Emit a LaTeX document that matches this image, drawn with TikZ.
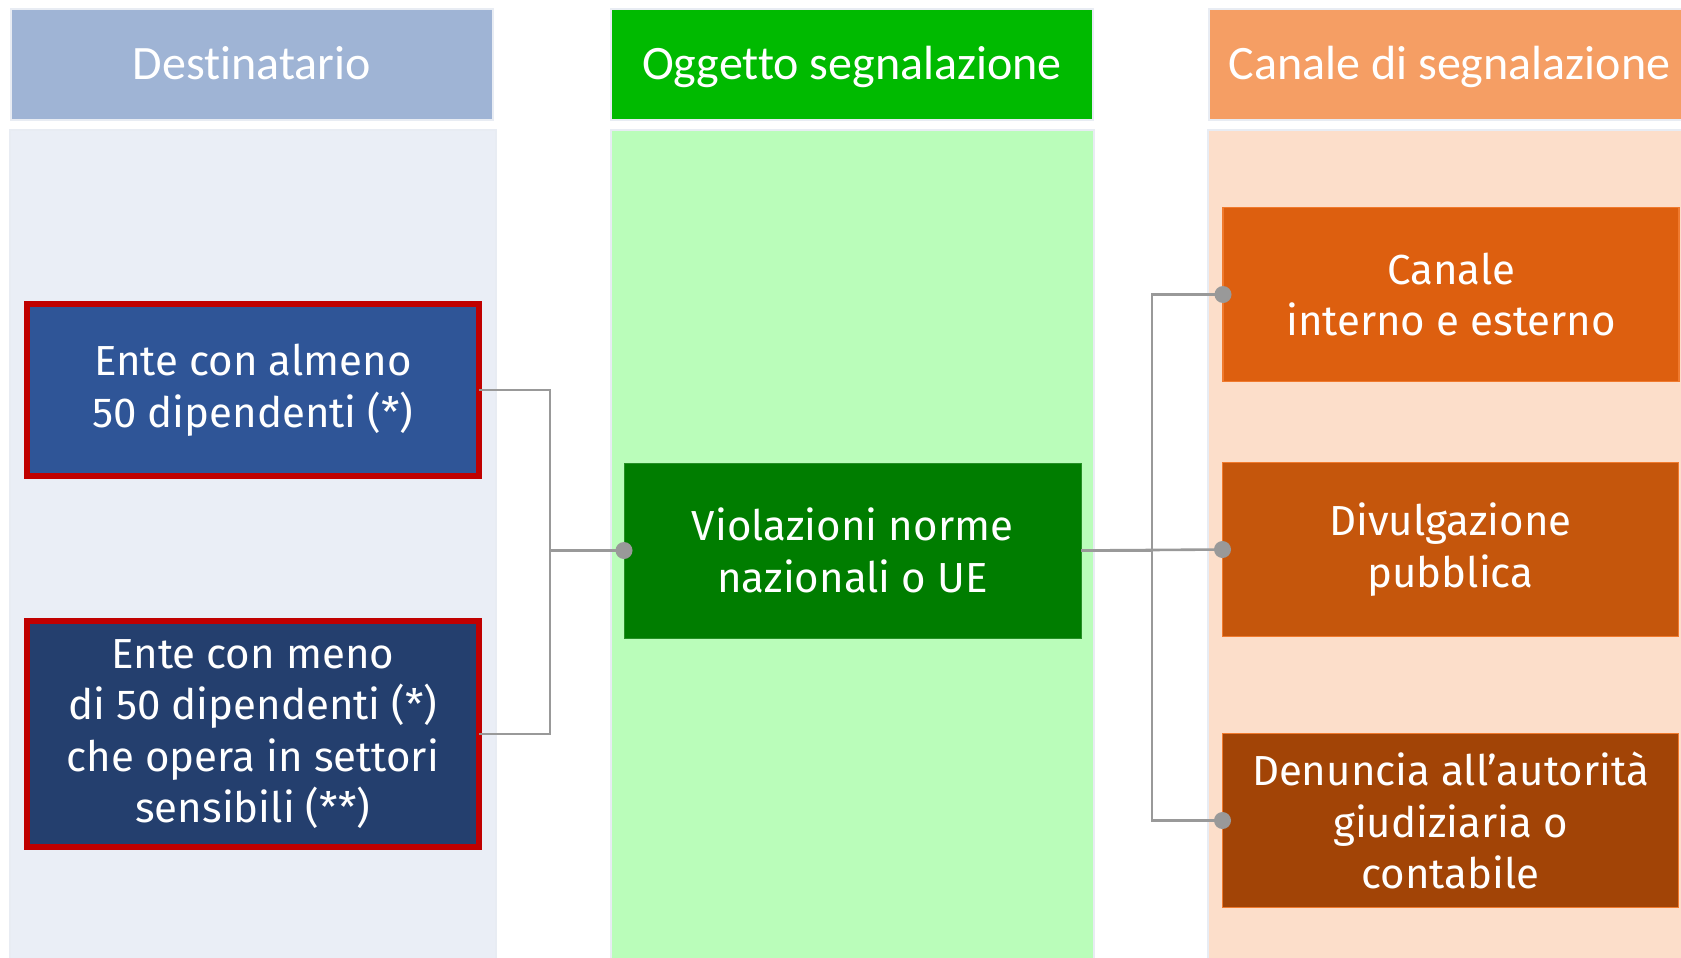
\documentclass[tikz,border=0pt]{standalone}
\usepackage{fontspec}
\setmainfont{Fira Sans}
\newfontfamily\headfont[Ligatures=NoCommon]{Carlito}
\definecolor{hdrA}{HTML}{9FB4D5}
\definecolor{bgA}{HTML}{EAEEF6}
\definecolor{boxA}{HTML}{2F5597}
\definecolor{boxB}{HTML}{243F6E}
\definecolor{redB}{HTML}{C00000}
\definecolor{hdrG}{HTML}{00BA00}
\definecolor{bgG}{HTML}{BAFDBA}
\definecolor{boxG}{HTML}{007D00}
\definecolor{hdrO}{HTML}{F59E64}
\definecolor{bgO}{HTML}{FCDECA}
\definecolor{boxO1}{HTML}{DD5F0F}
\definecolor{boxO2}{HTML}{C5560C}
\definecolor{boxO3}{HTML}{A24406}
\definecolor{edgeO}{HTML}{F07A2E}
\definecolor{conn}{HTML}{999999}
\definecolor{rim}{HTML}{E8ECF3}
\begin{document}
\begin{tikzpicture}[x=1pt,y=-1pt,
  hdr/.style={minimum width=482pt,minimum height=111pt,inner sep=0pt,outer sep=0pt,
    text height=31pt,text depth=0pt,
    text=white,font=\headfont\fontsize{48}{56}\selectfont,draw=rim,line width=2pt},
  colbg/.style={draw=rim,line width=2pt},
  ibox/.style={inner sep=0pt,outer sep=0pt,text=white,align=center,
    font=\fontsize{42}{51.5}\selectfont},
  redbox/.style={ibox,draw=redB,line width=6pt,minimum width=452.4pt},
  obox/.style={ibox,draw=edgeO,line width=1.5pt,minimum width=456pt,minimum height=174pt},
  conline/.style={draw=conn,line width=2.6pt},
  cdot/.style={fill=conn}
]
\useasboundingbox (0,0) rectangle (1681,958);
\fill[white] (0,0) rectangle (1681,958);
% column backgrounds
\path[colbg,fill=bgA] (10,130) rectangle (496,970);
\path[colbg,fill=bgG] (611,130) rectangle (1094,970);
\path[colbg,fill=bgO] (1208,130) rectangle (1700,970);
% headers
\node[hdr,fill=hdrA] (h1) at (252,64.5) {Destinatario};
\node[hdr,fill=hdrG] (h2) at (852,64.5) {Oggetto segnalazione};
\node[hdr,fill=hdrO] (h3) at (1449.5,64.5) {Canale di segnalazione};
% left boxes
\node[redbox,fill=boxA,minimum height=172pt] (b1) at (252.8,390) {Ente con almeno\\50 dipendenti (*)};
\node[redbox,fill=boxB,minimum height=226pt] (b2) at (252.8,734) {Ente con meno\\di 50 dipendenti (*)\\che opera in settori\\sensibili (**)};
% middle box
\node[ibox,fill=boxG,draw=boxG!85!white,line width=1pt,minimum width=457pt,minimum height=175pt] (g) at (852.5,550.5) {Violazioni norme\\nazionali o UE};
% right boxes
\node[obox,fill=boxO1] (o1) at (1451,294.5) {Canale\\interno e esterno};
\node[obox,fill=boxO2] (o2) at (1450.5,549.5) {Divulgazione\\pubblica};
\node[obox,fill=boxO3] (o3) at (1450.5,820.5) {Denuncia all’autorità\\giudiziaria o\\contabile};
% connectors left
\draw[conline] (b1.east) -- ++(71,0) |- (g.west);
\draw[conline] (b2.east) -- ++(71,0) |- (g.west);
\fill[cdot] (g.west) circle (8.5pt);
% connectors right
\draw[conline] (g.east) -- ++(71,0) |- (o1.west);
\draw[conline] (g.east) -- (o2.west);
\draw[conline] (g.east) -- ++(71,0) |- (o3.west);
\fill[cdot] (o1.west) circle (8.5pt);
\fill[cdot] (o2.west) circle (8.5pt);
\fill[cdot] (o3.west) circle (8.5pt);
\end{tikzpicture}
\end{document}
